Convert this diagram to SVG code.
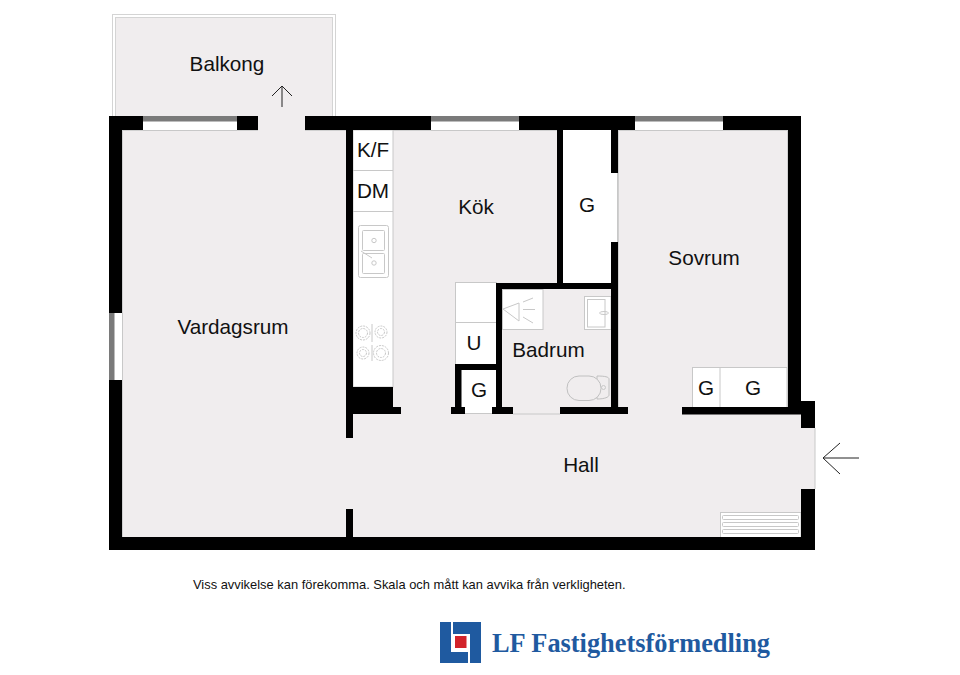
<svg xmlns="http://www.w3.org/2000/svg" width="960" height="675" viewBox="0 0 960 675">
<style>
.w{fill:#000}
.f{fill:#f0edee}
.c{fill:#fff;stroke:#c8c8c8;stroke-width:1}
.t{fill:#f0edee;stroke:#c0c0c0;stroke-width:1}
.g{fill:none;stroke:#c8c8c8;stroke-width:1}
.win{fill:#7a7a7a}
.a{fill:none;stroke:#222;stroke-width:1}
text{font-family:"Liberation Sans",Arial,sans-serif;fill:#111;font-size:20.700px}
.lab{text-anchor:middle}
</style>
<rect width="960" height="675" fill="#fff"/>
<g id="balkong">
<rect x="112.500" y="14.500" width="223" height="102" fill="#fff" stroke="#d4d4d4"/>
<rect x="115.500" y="17.500" width="217" height="99" class="f" stroke="#d4d4d4"/>
<path class="a" d="M282 107V86M272 96L282 86L292 96" stroke="#555"/>
<text x="227" y="71" class="lab">Balkong</text>
</g>
<g id="floor">
<rect x="122" y="130" width="224" height="407" class="f"/>
<rect x="353" y="130" width="204" height="284" class="f"/>
<rect x="618" y="130" width="170" height="284" class="f"/>
<rect x="346" y="414" width="469" height="123" class="f"/>
<rect x="346" y="407" width="336" height="7" class="f"/>
<rect x="502" y="289" width="109" height="125" class="f"/>
<rect x="258" y="116" width="47" height="14" class="f"/>
<rect x="122" y="414" width="224" height="123" class="f"/>
<path d="M815 428V489" stroke="#c8c8c8" fill="none"/>
<path d="M513 414H560" stroke="#c8c8c8" fill="none"/>
<path d="M122.500 130V537M122 130.500H258M305 130.500H346M353 130.500H557M618 130.500H788M618.500 130V414M787.500 130V407" stroke="#d0d0d0" fill="none"/>
</g>
<g id="closet-g">
<rect x="563" y="130" width="48" height="153" fill="#fff"/>
<rect x="611" y="173" width="7" height="69" fill="#fff"/>
<path d="M617.500 173V242" stroke="#c8c8c8" fill="none"/>
<text x="587" y="212" class="lab">G</text>
</g>
<g id="kitchen-counter">
<rect x="353" y="130" width="40" height="257" class="c"/>
<path class="g" d="M353 170.500H393M353 211.500H393"/>
<text x="373" y="157" class="lab">K/F</text>
<text x="373" y="198" class="lab">DM</text>
<rect x="358.500" y="225.500" width="30" height="52" rx="2" class="g" stroke-width="1.500"/>
<rect x="362.500" y="230.500" width="22" height="20" rx="1" class="g"/>
<rect x="362.500" y="253.500" width="22" height="20" rx="1" class="g"/>
<circle cx="374" cy="240.500" r="2.200" class="g"/>
<circle cx="374" cy="263" r="2.200" class="g"/>
<path class="g" d="M361 251L372 258"/>
<g class="g" stroke-dasharray="2 1">
<circle cx="363" cy="333" r="7"/><circle cx="363" cy="333" r="4.500"/>
<circle cx="381" cy="332" r="6"/><circle cx="381" cy="332" r="3.500"/>
<circle cx="363" cy="353" r="6"/><circle cx="363" cy="353" r="3.500"/>
<circle cx="381" cy="353" r="7.500"/><circle cx="381" cy="353" r="4.500"/>
</g>
<path class="g" d="M372 324V342M372 345V361"/>
</g>
<g id="kok"><text x="476" y="214" class="lab">Kök</text></g>
<g id="cabinet-u">
<rect x="455.500" y="282.500" width="41" height="82" class="c"/>
<path class="g" d="M455 322.500H496"/>
<text x="474" y="350" class="lab">U</text>
</g>
<g id="closet-g2">
<rect x="461" y="370" width="35" height="44" fill="#fff"/>
<path class="g" d="M465 413.500H492"/>
<text x="479" y="397" class="lab">G</text>
</g>
<g id="badrum">
<rect x="502.500" y="289.500" width="40.500" height="40" class="c"/>
<path class="g" d="M519 303L503 309L519 321V303ZM523 302L533 298M523 309.500H535M523 317L533 323"/>
<rect x="584.500" y="296.500" width="26.500" height="33" class="c"/>
<rect x="587.500" y="299.500" width="17.500" height="27.500" class="g"/>
<ellipse cx="604" cy="313" rx="4.500" ry="1.500" class="g"/>
<path class="t" d="M597 376C605 376 609 377 609 379V395C609 397 605 399 597 399Z"/>
<rect x="567" y="376" width="34" height="24.500" rx="12" class="t"/>
<circle cx="603.500" cy="387.500" r="2" class="g"/>
<text x="548.500" y="357" class="lab">Badrum</text>
</g>
<g id="sovrum">
<text x="704" y="265" class="lab">Sovrum</text>
<rect x="692.500" y="367.500" width="94.500" height="40" class="c"/>
<path class="g" d="M720 367V407"/>
<text x="706" y="395" class="lab">G</text>
<text x="753" y="395" class="lab">G</text>
</g>
<g id="vardagsrum"><text x="233" y="334" class="lab">Vardagsrum</text></g>
<g id="hall">
<text x="581" y="472" class="lab">Hall</text>
<rect x="720.500" y="512.500" width="80.500" height="25" class="c"/>
<rect x="722.500" y="515.500" width="76" height="4" rx="1" class="g"/>
<rect x="722.500" y="522.500" width="76" height="4" rx="1" class="g"/>
<rect x="722.500" y="529.500" width="76" height="4" rx="1" class="g"/>
<path class="a" d="M859 458H823M840 443L823 458L840 474"/>
</g>
<g id="walls">
<path class="w" d="M109 116H143V130H122V313H109ZM237 116H258V130H237ZM305 116H431V130H305ZM519 116H635V130H519ZM723 116H801V401H815V428H801V414H788H787V407H788V130H723ZM109 380H122V537H346V509H353V537H801V489H815V550H109Z"/>
<rect class="w" x="346" y="130" width="7" height="308"/>
<path class="w" d="M353 387H393V407H401V414H353Z"/>
<rect class="w" x="557" y="130" width="6" height="153"/>
<rect class="w" x="611" y="130" width="7" height="43"/>
<rect class="w" x="611" y="242" width="7" height="165"/>
<path class="w" d="M496 283H618V289H502V407H513V414H492V407H496V370H461.500V407H465V414H451V407H455V364H496Z"/>
<rect class="w" x="560" y="407" width="68" height="7"/>
<rect class="w" x="682" y="407" width="119" height="7.500"/>
</g>
<g id="windows">
<rect class="win" x="143" y="116" width="94" height="5.500"/>
<rect class="win" x="431" y="116" width="88" height="5.500"/>
<rect class="win" x="635" y="116" width="88" height="5.500"/>
<rect class="win" x="109" y="313" width="5.500" height="67"/>
<path class="g" d="M143 130.500H237M431 130.500H519M635 130.500H723M122.500 313V380"/>
</g>
<g id="note"><text x="193" y="589" style="font-size:12.900px">Viss avvikelse kan förekomma. Skala och mått kan avvika från verkligheten.</text></g>
<g id="logo">
<rect x="440" y="622" width="41" height="41" fill="#1f5aa0"/>
<path fill="#fff" d="M451 622H453V634H470V663H468V652H451Z"/>
<rect x="455" y="636" width="11.500" height="12" fill="#d2232a"/>
<text x="492" y="652" textLength="278" lengthAdjust="spacingAndGlyphs" style="font-family:'Liberation Serif',serif;font-weight:bold;font-size:27px;fill:#1f5aa0">LF Fastighetsförmedling</text>
</g>
</svg>
